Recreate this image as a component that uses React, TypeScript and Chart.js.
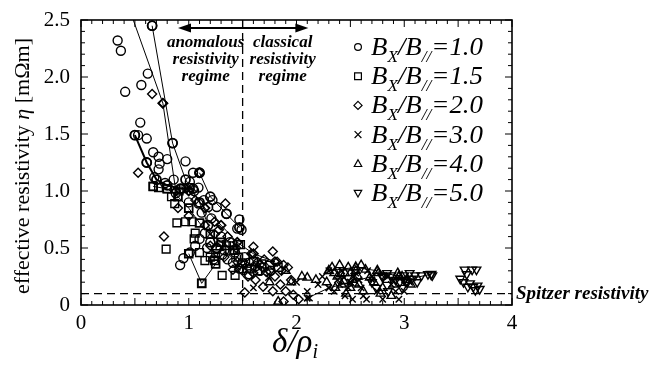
import React, { useEffect, useRef } from "react";
import { Chart, registerables } from "chart.js";

Chart.register(...registerables);

// ---- data (delta/rho_i, effective resistivity [mOhm m]) ----
const xTickValues = [0, 1, 2, 3, 4];
const yTickValues = [0, 0.5, 1, 1.5, 2, 2.5];
const legendLabels = ["1.0", "1.5", "2.0", "3.0", "4.0", "5.0"];
const regimeBoundary = 1.5;
const spitzerLevel = 0.1;

const b10Points: [number, number][] = [
  [0.34, 2.32], [0.37, 2.23], [0.41, 1.87], [0.56, 1.93], [0.62, 2.03], [0.66, 2.45], [0.55, 1.6],
  [0.5, 1.49], [0.53, 1.49], [0.61, 1.46], [0.85, 1.42], [0.67, 1.34], [0.72, 1.3], [0.8, 1.28],
  [0.61, 1.25], [0.73, 1.24], [0.97, 1.26], [0.72, 1.19], [1.04, 1.16], [1.1, 1.16], [0.86, 1.1],
  [1.01, 1.08], [1.09, 1.03], [1.0, 0.9], [1.09, 0.89], [1.14, 0.92], [1.18, 0.86], [1.26, 0.86],
  [1.35, 0.8], [1.47, 0.75], [1.45, 0.67], [1.49, 0.66], [0.92, 0.35], [0.95, 0.41], [1.01, 0.46],
  [1.06, 0.52], [1.1, 0.58], [1.15, 0.63], [1.2, 0.55], [1.26, 0.49], [1.31, 0.44], [1.36, 0.4],
  [1.41, 0.37], [1.3, 0.6], [1.38, 0.55], [1.52, 0.42], [1.56, 0.37], [1.62, 0.34], [1.66, 0.3],
  [1.21, 0.76], [1.12, 0.81], [1.05, 1.0], [0.93, 1.02], [1.22, 0.92], [0.88, 0.98], [1.43, 0.46],
  [1.56, 0.27], [0.68, 1.12], [0.78, 1.07], [1.17, 0.5], [1.23, 0.4], [1.33, 0.48], [1.47, 0.32],
  [1.58, 0.32], [1.7, 0.33], [1.76, 0.3],
];
const b15Points: [number, number][] = [
  [0.67, 1.04], [0.72, 1.03], [0.8, 1.02], [0.87, 0.89], [0.89, 0.72], [0.79, 0.49], [0.97, 0.73],
  [1.03, 0.73], [1.06, 0.63], [1.1, 0.46], [1.12, 0.19], [1.24, 0.39], [1.31, 0.26], [1.43, 0.26],
  [1.48, 0.53], [1.15, 0.39], [1.2, 0.42], [1.29, 0.52], [1.35, 0.52], [1.41, 0.52], [1.5, 0.37],
  [1.54, 0.32], [1.6, 0.38], [0.95, 1.02], [1.01, 1.03], [0.91, 1.0], [1.05, 0.58], [1.38, 0.48],
  [1.46, 0.42], [1.68, 0.36], [1.75, 0.35], [1.25, 0.45], [0.84, 0.95], [1.83, 0.33], [1.64, 0.3],
];
const b20Points: [number, number][] = [
  [0.53, 1.16], [0.66, 1.85], [0.76, 1.77], [0.77, 0.6], [1.1, 1.16], [1.34, 0.89], [1.24, 0.73],
  [1.6, 0.51], [1.78, 0.47], [1.92, 0.33], [1.69, 0.16], [1.52, 0.11], [1.97, 0.09], [1.85, 0.18],
  [1.6, 0.28], [1.41, 0.31], [1.72, 0.29], [1.82, 0.38], [1.88, 0.35], [1.15, 0.7], [1.28, 0.66],
  [1.2, 0.52], [1.33, 0.42], [1.45, 0.38], [1.5, 0.3], [1.55, 0.25], [1.62, 0.22], [1.66, 0.35],
  [1.7, 0.4], [1.75, 0.3], [1.8, 0.25], [1.95, 0.22], [1.9, 0.12], [1.58, 0.45], [1.0, 0.78],
  [0.9, 0.85], [1.06, 0.92], [1.24, 0.62], [1.36, 0.6], [1.44, 0.5], [1.78, 0.12], [2.02, 0.05],
  [1.88, 0.03], [1.52, 0.36], [1.64, 0.38], [1.86, 0.3],
];
const b30Points: [number, number][] = [
  [2.1, 0.12], [2.12, 0.06], [2.24, 0.25], [2.3, 0.3], [2.38, 0.22], [2.45, 0.08], [2.5, 0.2],
  [2.55, 0.28], [2.6, 0.15], [2.65, 0.05], [2.7, 0.22], [2.75, 0.12], [2.8, 0.05], [2.88, 0.18],
  [2.95, 0.05], [3.0, 0.12], [2.42, 0.3], [2.48, 0.15], [2.58, 0.22], [2.66, 0.3], [1.6, 0.15],
  [1.74, 0.24], [1.5, 0.34], [2.0, 0.2], [2.2, 0.18], [2.35, 0.12], [2.85, 0.25], [3.05, 0.2],
  [2.52, 0.05], [1.45, 0.33], [2.62, 0.08], [2.92, 0.12], [2.44, 0.24], [2.53, 0.25], [2.4, 0.18],
];
const b40Points: [number, number][] = [
  [1.83, 0.03], [1.9, 0.3], [1.95, 0.2], [2.05, 0.25], [2.1, 0.24], [2.18, 0.22], [2.33, 0.33],
  [2.38, 0.25], [2.42, 0.18], [2.45, 0.28], [2.48, 0.33], [2.52, 0.22], [2.55, 0.3], [2.58, 0.18],
  [2.64, 0.31], [2.68, 0.24], [2.72, 0.2], [2.76, 0.28], [2.8, 0.15], [2.84, 0.22], [2.9, 0.18],
  [2.94, 0.28], [2.98, 0.25], [3.02, 0.22], [3.06, 0.18], [2.36, 0.15], [2.46, 0.1], [2.62, 0.12],
  [2.78, 0.1], [2.88, 0.08], [1.75, 0.2], [2.28, 0.2], [2.4, 0.35], [2.6, 0.35], [2.5, 0.15],
  [2.41, 0.27], [2.44, 0.21], [2.5, 0.28], [2.54, 0.19], [2.57, 0.25], [2.35, 0.28],
];
const b50Points: [number, number][] = [
  [2.79, 0.26], [2.84, 0.28], [2.88, 0.26], [2.92, 0.22], [2.96, 0.2], [3.0, 0.26], [3.05, 0.28],
  [3.07, 0.23], [3.1, 0.26], [3.16, 0.26], [3.22, 0.27], [3.26, 0.26], [2.7, 0.2], [2.74, 0.15],
  [2.98, 0.15], [3.12, 0.2], [3.56, 0.31], [3.63, 0.31], [3.67, 0.31], [3.58, 0.27], [3.52, 0.23],
  [3.55, 0.2], [3.59, 0.16], [3.64, 0.16], [3.68, 0.17], [3.61, 0.19], [3.66, 0.13], [3.7, 0.14],
  [2.85, 0.12], [3.03, 0.2],
];

// connected time traces
const trace1: [number, number][] = [[0.66, 2.45], [0.85, 1.42], [0.97, 1.1], [1.1, 0.9], [1.18, 0.7], [1.26, 0.5]];
const trace2: [number, number][] = [[0.44, 2.62], [0.76, 1.77], [0.88, 1.0]];
const trace3: [number, number][] = [[0.5, 1.49], [0.61, 1.25], [0.7, 1.1], [0.8, 1.05], [0.92, 1.02], [1.04, 1.02]];
const trace4: [number, number][] = [[0.67, 1.04], [0.8, 1.02], [0.9, 0.95], [1.0, 0.85], [1.1, 0.72], [1.2, 0.62], [1.3, 0.55], [1.42, 0.48]];
const trace5: [number, number][] = [[1.0, 0.45], [1.12, 0.19], [1.25, 0.36]];
const trace6: [number, number][] = [[1.0, 1.0], [1.15, 0.85], [1.3, 0.7], [1.45, 0.55], [1.6, 0.45], [1.8, 0.38]];
const trace7: [number, number][] = [[2.1, 0.06], [2.3, 0.15], [2.5, 0.2], [2.7, 0.25]];
const trace8: [number, number][] = [[2.3, 0.3], [2.55, 0.33], [2.75, 0.3], [2.95, 0.25]];
const trace9: [number, number][] = [[2.8, 0.25], [3.0, 0.22], [3.25, 0.27]];
const trace10: [number, number][] = [[1.1, 1.16], [1.2, 0.95], [1.35, 0.8], [1.47, 0.68]];

const SERIF = "'Liberation Serif', 'DejaVu Serif', serif";

type Style = { pointStyle: any; radius: number; rotation: number };
const styles: Style[] = [
  { pointStyle: "circle", radius: 4.5, rotation: 0 },
  { pointStyle: "rect", radius: 5.5, rotation: 0 },
  { pointStyle: "rectRot", radius: 4.5, rotation: 0 },
  { pointStyle: "crossRot", radius: 4.5, rotation: 0 },
  { pointStyle: "triangle", radius: 5, rotation: 0 },
  { pointStyle: "triangle", radius: 5, rotation: 180 },
];

const toXY = (pts: [number, number][]) => pts.map(([x, y]) => ({ x, y }));

function scatterSet(pts: [number, number][], s: Style) {
  return {
    data: toXY(pts),
    showLine: false,
    pointStyle: s.pointStyle,
    pointRadius: s.radius,
    pointRotation: s.rotation,
    pointBorderColor: "#000",
    pointBackgroundColor: "rgba(0,0,0,0)",
    pointBorderWidth: 1.4,
  };
}
function traceSet(pts: [number, number][], s: Style, width = 1) {
  return {
    ...scatterSet(pts, s),
    showLine: true,
    borderColor: "#000",
    borderWidth: width,
    pointBorderWidth: 1.8,
  };
}

function drawMarker(ctx: CanvasRenderingContext2D, kind: number, x: number, y: number, r: number) {
  ctx.beginPath();
  if (kind === 0) ctx.arc(x, y, r, 0, Math.PI * 2);
  else if (kind === 1) ctx.rect(x - r, y - r, 2 * r, 2 * r);
  else if (kind === 2) {
    ctx.moveTo(x, y - r * 1.2); ctx.lineTo(x + r * 1.2, y); ctx.lineTo(x, y + r * 1.2); ctx.lineTo(x - r * 1.2, y); ctx.closePath();
  } else if (kind === 3) {
    ctx.moveTo(x - r, y - r); ctx.lineTo(x + r, y + r); ctx.moveTo(x + r, y - r); ctx.lineTo(x - r, y + r);
  } else if (kind === 4) {
    ctx.moveTo(x, y - r * 1.2); ctx.lineTo(x + r * 1.1, y + r * 0.8); ctx.lineTo(x - r * 1.1, y + r * 0.8); ctx.closePath();
  } else {
    ctx.moveTo(x, y + r * 1.2); ctx.lineTo(x + r * 1.1, y - r * 0.8); ctx.lineTo(x - r * 1.1, y - r * 0.8); ctx.closePath();
  }
  ctx.stroke();
}

const decor = {
  id: "decor",
  beforeDatasetsDraw(chart: any) {
    const { ctx, chartArea: a, scales } = chart;
    const { x, y } = scales;
    ctx.save();
    ctx.strokeStyle = "#000";
    ctx.lineWidth = 1.3;
    ctx.setLineDash([8, 5]);
    const xv = x.getPixelForValue(regimeBoundary);
    ctx.beginPath(); ctx.moveTo(xv, a.top); ctx.lineTo(xv, a.bottom); ctx.stroke();
    const ys = y.getPixelForValue(spitzerLevel);
    ctx.beginPath(); ctx.moveTo(a.left, ys); ctx.lineTo(a.right, ys); ctx.stroke();
    ctx.restore();
  },
  afterDraw(chart: any) {
    const { ctx, chartArea: a, scales } = chart;
    const { x, y } = scales;
    ctx.save();
    ctx.strokeStyle = "#000";
    ctx.fillStyle = "#000";
    // frame
    ctx.lineWidth = 1.6;
    ctx.strokeRect(a.left, a.top, a.right - a.left, a.bottom - a.top);
    // ticks
    ctx.lineWidth = 1;
    for (let i = 0; i <= 40; i++) {
      const px = x.getPixelForValue(i / 10);
      const L = i % 5 === 0 ? 7 : 4;
      ctx.beginPath();
      ctx.moveTo(px, a.bottom); ctx.lineTo(px, a.bottom - L);
      ctx.moveTo(px, a.top); ctx.lineTo(px, a.top + L);
      ctx.stroke();
    }
    for (let i = 0; i <= 25; i++) {
      const py = y.getPixelForValue(i / 10);
      const L = i % 5 === 0 ? 7 : 4;
      ctx.beginPath();
      ctx.moveTo(a.left, py); ctx.lineTo(a.left + L, py);
      ctx.moveTo(a.right, py); ctx.lineTo(a.right - L, py);
      ctx.stroke();
    }

    // regime annotation
    const xb = x.getPixelForValue(regimeBoundary);
    ctx.font = `bold italic 17px ${SERIF}`;
    ctx.textAlign = "center";
    ctx.textBaseline = "middle";
    const rowsL = ["anomalous", "resistivity", "regime"];
    const rowsR = ["classical", "resistivity", "regime"];
    const rowY = [43, 60, 77];
    rowsL.forEach((t, i) => ctx.fillText(t, xb - 37, rowY[i]));
    rowsR.forEach((t, i) => ctx.fillText(t, xb + 40, rowY[i]));

    // double arrow
    const ax1 = x.getPixelForValue(0.9);
    const ax2 = x.getPixelForValue(2.11);
    const ay = y.getPixelForValue(2.43);
    ctx.lineWidth = 2;
    ctx.beginPath(); ctx.moveTo(ax1 + 8, ay); ctx.lineTo(ax2 - 8, ay); ctx.stroke();
    ctx.beginPath(); ctx.moveTo(ax1, ay); ctx.lineTo(ax1 + 13, ay - 4.5); ctx.lineTo(ax1 + 13, ay + 4.5); ctx.closePath(); ctx.fill();
    ctx.beginPath(); ctx.moveTo(ax2, ay); ctx.lineTo(ax2 - 13, ay - 4.5); ctx.lineTo(ax2 - 13, ay + 4.5); ctx.closePath(); ctx.fill();

    // Spitzer label
    ctx.textAlign = "left";
    ctx.font = `bold italic 19px ${SERIF}`;
    ctx.fillText("Spitzer resistivity", a.right + 4, y.getPixelForValue(spitzerLevel));

    // legend
    ctx.lineWidth = 1.2;
    ctx.textBaseline = "alphabetic";
    legendLabels.forEach((lab, i) => {
      const cy = 47 + i * 29.2;
      drawMarker(ctx, i, 358, cy, 3.4);
      const big = `italic 25px ${SERIF}`;
      const small = `italic 16px ${SERIF}`;
      const parts: [string, string, number][] = [
        ["B", big, 0], ["X", small, 7], ["/", big, 0], ["B", big, 0], ["//", small, 7], ["=" + lab, big, 0],
      ];
      let w = 0;
      parts.forEach(([t, f]) => { ctx.font = f; w += ctx.measureText(t).width; });
      const target = 112;
      ctx.save();
      ctx.translate(371, cy + 8);
      ctx.scale(target / w, 1);
      let cx = 0;
      parts.forEach(([t, f, dy]) => {
        ctx.font = f;
        ctx.fillText(t, cx, dy);
        cx += ctx.measureText(t).width;
      });
      ctx.restore();
    });

    // y title
    ctx.save();
    ctx.translate(29, 166);
    ctx.rotate(-Math.PI / 2);
    const yParts: [string, string][] = [
      ["effective resistivity ", `22px ${SERIF}`],
      ["\u03b7", `italic 22px ${SERIF}`],
      [" [m\u03a9m]", `22px ${SERIF}`],
    ];
    let tw = 0;
    yParts.forEach(([t, f]) => { ctx.font = f; tw += ctx.measureText(t).width; });
    let tx = -tw / 2;
    yParts.forEach(([t, f]) => { ctx.font = f; ctx.fillText(t, tx, 0); tx += ctx.measureText(t).width; });
    ctx.restore();

    // x title
    ctx.font = `italic 33px ${SERIF}`;
    const m1 = ctx.measureText("\u03b4/\u03c1").width;
    ctx.font = `italic 20px ${SERIF}`;
    const m2 = ctx.measureText("i").width;
    const xs = 295 - (m1 + m2) / 2;
    ctx.font = `italic 33px ${SERIF}`;
    ctx.fillText("\u03b4/\u03c1", xs, 352);
    ctx.font = `italic 20px ${SERIF}`;
    ctx.fillText("i", xs + m1, 358);
    ctx.restore();
  },
};

export default function App() {
  const ref = useRef<HTMLCanvasElement>(null);
  useEffect(() => {
    if (!ref.current) return;
    const chart = new Chart(ref.current, {
      type: "scatter",
      data: {
        datasets: [
          scatterSet(b10Points, styles[0]),
          scatterSet(b15Points, styles[1]),
          scatterSet(b20Points, styles[2]),
          scatterSet(b30Points, styles[3]),
          scatterSet(b40Points, styles[4]),
          scatterSet(b50Points, styles[5]),
          traceSet(trace1, styles[0]),
          traceSet(trace2, styles[2]),
          traceSet(trace3, styles[0], 2),
          traceSet(trace4, styles[1]),
          traceSet(trace5, styles[1]),
          traceSet(trace6, styles[2]),
          traceSet(trace7, styles[3]),
          traceSet(trace8, styles[4]),
          traceSet(trace9, styles[5]),
          traceSet(trace10, styles[0]),
        ] as any,
      },
      options: {
        animation: false,
        responsive: false,
        layout: { padding: { left: 0, right: 148, top: 20, bottom: 0 } },
        plugins: { legend: { display: false }, tooltip: { enabled: false } },
        scales: {
          x: {
            type: "linear",
            min: 0,
            max: 4,
            afterFit: (s: any) => { s.height = 62; },
            afterBuildTicks: (s: any) => { s.ticks = xTickValues.map((v) => ({ value: v })); },
            grid: { display: false },
            border: { display: false },
            ticks: { font: { family: SERIF, size: 21 }, color: "#000", padding: -2, maxRotation: 0 },
          },
          y: {
            type: "linear",
            min: 0,
            max: 2.5,
            afterFit: (s: any) => { s.width = 81; },
            afterBuildTicks: (s: any) => { s.ticks = yTickValues.map((v) => ({ value: v })); },
            grid: { display: false },
            border: { display: false },
            ticks: { font: { family: SERIF, size: 21 }, color: "#000", padding: 3 },
          },
        },
      },
      plugins: [decor],
    });
    return () => chart.destroy();
  }, []);
  return (
    <div style={{ position: "fixed", left: 0, top: 0, width: 660, height: 367, background: "#fff" }}>
      <canvas ref={ref} width={660} height={367} style={{ width: 660, height: 367, display: "block" }} />
    </div>
  );
}
